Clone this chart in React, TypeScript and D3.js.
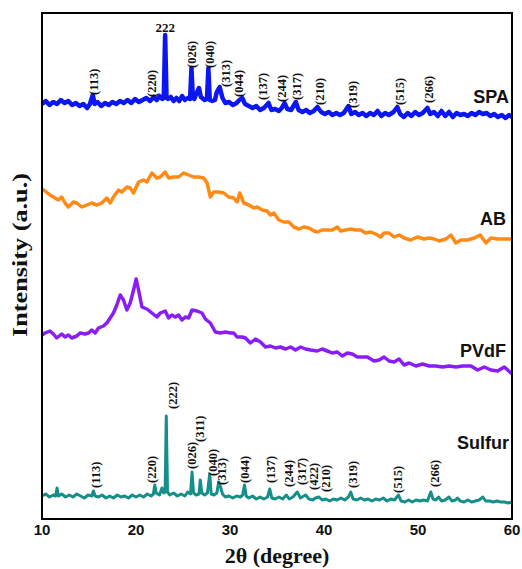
import React from 'react';
import * as d3 from 'd3';

// 2θ (degree), intensity (a.u., offset stack)
const spa: [number, number][] = [
  [10.0, 415], [10.4, 418], [10.8, 414], [11.2, 417], [11.6, 415], [12.0, 419], [12.4, 416], [12.8, 418],
  [13.2, 414], [13.6, 416], [14.0, 413], [14.4, 415], [14.8, 411], [15.1, 415], [15.4, 424], [15.6, 415],
  [15.9, 417], [16.3, 413], [16.7, 416], [17.1, 414], [17.5, 417], [17.9, 415], [18.3, 418], [18.7, 416],
  [19.1, 419], [19.5, 416], [19.9, 420], [20.3, 417], [20.7, 419], [21.1, 421], [21.5, 418], [21.9, 422],
  [22.2, 419], [22.5, 423], [22.8, 420], [22.95, 421], [23.1, 484], [23.25, 421], [23.4, 420], [23.7, 422],
  [24.0, 418], [24.3, 421], [24.6, 418], [24.9, 423], [25.2, 419], [25.5, 421], [25.75, 420], [25.9, 451],
  [26.05, 421], [26.2, 420], [26.5, 427], [26.7, 431], [26.9, 422], [27.3, 419], [27.55, 420], [27.7, 451],
  [27.85, 419], [28.1, 418], [28.4, 419], [28.6, 427], [28.9, 432], [29.2, 421], [29.5, 416], [29.9, 417],
  [30.3, 414], [30.7, 416], [31.0, 419], [31.3, 421], [31.6, 415], [32.0, 413], [32.4, 411], [32.8, 413],
  [33.2, 409], [33.6, 411], [34.1, 416], [34.4, 409], [34.8, 410], [35.2, 408], [35.5, 411], [35.8, 416],
  [36.1, 410], [36.5, 409], [37.0, 417], [37.3, 409], [37.7, 407], [38.1, 409], [38.5, 406], [38.9, 408],
  [39.3, 412], [39.7, 407], [40.1, 405], [40.5, 407], [40.9, 404], [41.3, 406], [41.7, 404], [42.1, 406],
  [42.6, 413], [42.9, 405], [43.3, 407], [43.7, 404], [44.1, 406], [44.5, 403], [44.9, 406], [45.3, 404],
  [45.7, 408], [46.1, 403], [46.5, 406], [46.9, 404], [47.4, 407], [47.8, 412], [48.1, 405], [48.5, 402],
  [48.9, 406], [49.3, 403], [49.7, 407], [50.1, 404], [50.5, 406], [51.0, 411], [51.3, 405], [51.7, 407],
  [52.1, 403], [52.5, 408], [52.9, 403], [53.3, 407], [53.7, 402], [54.1, 406], [54.5, 404], [54.9, 405],
  [55.3, 403], [55.7, 406], [56.1, 404], [56.5, 407], [56.9, 405], [57.3, 406], [57.7, 403], [58.1, 405],
  [58.5, 402], [58.9, 404], [59.3, 401], [59.7, 404], [60.0, 402],
];

const ab: [number, number][] = [
  [10.0, 330], [10.32, 328], [10.85, 324], [11.39, 321], [11.74, 319], [12.10, 322], [12.45, 316], [12.81, 312],
  [13.34, 317], [13.70, 316], [14.23, 312], [14.76, 314], [15.29, 316], [15.83, 314], [16.36, 316], [16.89, 321],
  [17.25, 316], [17.60, 322], [18.14, 329], [18.49, 327], [19.03, 332], [19.38, 331], [19.74, 326], [20.27, 337],
  [20.80, 339], [21.16, 337], [21.69, 346], [22.22, 341], [22.58, 342], [23.11, 347], [23.47, 341], [24.00, 342],
  [24.53, 342], [25.07, 346], [25.60, 344], [26.13, 342], [26.67, 342], [27.20, 341], [27.56, 336], [27.91, 322],
  [28.27, 327], [28.80, 327], [29.33, 326], [29.87, 322], [30.40, 321], [30.75, 317], [31.04, 326], [31.46, 316],
  [32.00, 314], [32.53, 311], [32.89, 312], [33.42, 309], [33.95, 308], [34.31, 304], [34.66, 306], [35.20, 299],
  [35.73, 297], [36.26, 297], [36.79, 292], [37.33, 290], [37.86, 292], [38.39, 291], [38.93, 288], [39.28, 287],
  [39.81, 289], [40.35, 289], [40.88, 289], [41.41, 292], [41.77, 288], [42.30, 289], [42.84, 290], [43.37, 289],
  [43.90, 289], [44.43, 286], [44.97, 287], [45.50, 285], [46.03, 282], [46.39, 286], [46.92, 286], [47.46, 282],
  [47.99, 284], [48.52, 281], [49.23, 279], [49.94, 282], [50.65, 280], [51.19, 281], [51.72, 280], [52.25, 278],
  [52.96, 280], [53.50, 284], [54.03, 276], [54.56, 279], [55.27, 279], [55.98, 281], [56.62, 284], [57.23, 276],
  [57.76, 281], [58.47, 280], [59.36, 280], [60.0, 280],
];

const pvdf: [number, number][] = [
  [10.0, 184], [10.32, 186], [10.85, 188], [11.21, 185], [11.56, 181], [12.10, 185], [12.45, 182], [12.81, 184],
  [13.16, 181], [13.70, 183], [14.05, 186], [14.58, 185], [14.94, 186], [15.29, 189], [15.65, 186], [16.01, 191],
  [16.54, 193], [16.89, 196], [17.25, 201], [17.60, 206], [17.96, 214], [18.32, 224], [18.67, 219], [19.03, 209],
  [19.38, 216], [19.74, 229], [20.02, 240], [20.27, 229], [20.63, 212], [21.16, 210], [21.69, 206], [22.22, 202],
  [22.58, 206], [23.11, 208], [23.47, 201], [23.82, 204], [24.18, 202], [24.53, 204], [24.89, 199], [25.25, 202],
  [25.60, 201], [25.96, 209], [26.49, 208], [27.02, 206], [27.38, 200], [27.91, 196], [28.44, 187], [28.98, 186],
  [29.51, 187], [30.04, 186], [30.40, 186], [30.75, 182], [31.29, 182], [31.64, 181], [32.17, 176], [32.71, 180],
  [33.24, 177], [33.77, 172], [34.31, 173], [34.84, 171], [35.37, 172], [35.91, 170], [36.44, 172], [36.97, 169],
  [37.51, 172], [38.04, 170], [38.57, 169], [39.28, 168], [39.81, 170], [40.35, 168], [40.88, 166], [41.41, 167],
  [41.95, 163], [42.48, 166], [43.01, 165], [43.55, 162], [44.08, 162], [44.61, 162], [45.32, 158], [45.86, 159],
  [46.39, 162], [46.92, 158], [47.46, 157], [47.99, 160], [48.52, 154], [49.06, 156], [49.77, 153], [50.48, 155],
  [51.19, 153], [51.90, 153], [52.61, 152], [53.32, 153], [54.03, 152], [54.74, 153], [55.63, 153], [56.34, 149],
  [57.05, 152], [57.76, 149], [58.47, 148], [59.18, 152], [59.89, 146], [60.0, 147],
];

const sulfur: [number, number][] = [
  [10.0, 23], [10.4, 25], [10.8, 22], [11.2, 24], [11.45, 23], [11.6, 31], [11.75, 23], [12.1, 25],
  [12.5, 22], [12.9, 24], [13.3, 22], [13.7, 25], [14.1, 23], [14.5, 21], [14.9, 24], [15.3, 23],
  [15.47, 28], [15.65, 23], [16.0, 22], [16.4, 24], [16.8, 21], [17.2, 23], [17.6, 21], [18.0, 24],
  [18.4, 22], [18.8, 23], [19.2, 21], [19.6, 24], [20.0, 22], [20.4, 24], [20.8, 22], [21.2, 25],
  [21.6, 23], [21.85, 25], [22.0, 34], [22.15, 26], [22.5, 24], [22.76, 31], [22.95, 26], [23.1, 27],
  [23.22, 103], [23.35, 27], [23.6, 24], [24.0, 26], [24.4, 23], [24.8, 25], [25.2, 23], [25.5, 27],
  [25.8, 25], [25.96, 47], [26.12, 26], [26.4, 24], [26.7, 25], [26.84, 39], [27.0, 26], [27.3, 24],
  [27.6, 26], [27.84, 45], [28.0, 25], [28.3, 24], [28.6, 26], [28.8, 37], [29.0, 32], [29.2, 25],
  [29.5, 22], [29.9, 23], [30.3, 21], [30.7, 23], [31.1, 22], [31.35, 24], [31.54, 34], [31.72, 23],
  [32.0, 21], [32.4, 23], [32.8, 20], [33.2, 22], [33.6, 20], [34.0, 22], [34.23, 30], [34.45, 21],
  [34.8, 20], [35.2, 22], [35.6, 20], [36.0, 24], [36.3, 20], [36.7, 22], [37.15, 27], [37.5, 21],
  [38.04, 24], [38.4, 20], [38.8, 19], [39.1, 21], [39.46, 22], [39.8, 19], [40.2, 20], [40.6, 18],
  [41.0, 20], [41.4, 19], [41.8, 21], [42.2, 19], [42.6, 22], [42.84, 27], [43.1, 20], [43.5, 19],
  [43.9, 21], [44.3, 19], [44.7, 20], [45.1, 18], [45.5, 20], [45.9, 19], [46.3, 21], [46.7, 18],
  [47.1, 20], [47.5, 19], [47.92, 24], [48.2, 18], [48.6, 17], [49.0, 19], [49.4, 17], [49.8, 19],
  [50.2, 18], [50.6, 19], [51.0, 18], [51.36, 27], [51.6, 20], [51.9, 19], [52.2, 22], [52.5, 18],
  [52.9, 19], [53.3, 22], [53.6, 18], [54.0, 19], [54.2, 21], [54.5, 18], [54.9, 17], [55.3, 19],
  [55.7, 17], [56.1, 18], [56.5, 19], [56.9, 22], [57.2, 18], [57.6, 18], [58.0, 17], [58.4, 18],
  [58.8, 17], [59.2, 17], [59.6, 16], [60.0, 17],
];

// reflection labels: [hkl, 2θ, intensity where the label starts]
const spaPeaks: [string, number, number][] = [
  ['(113)', 15.44, 424], ['(220)', 21.62, 422], ['(026)', 25.88, 451], ['(040)', 27.80, 451],
  ['(313)', 29.51, 432], ['(044)', 30.90, 422], ['(137)', 33.45, 419], ['(244)', 35.48, 417],
  ['(317)', 37.08, 419], ['(210)', 39.53, 414], ['(319)', 43.05, 411], ['(515)', 48.06, 414],
  ['(266)', 51.15, 416],
];

const sulfurPeaks: [string, number, number][] = [
  ['(113)', 15.72, 31], ['(220)', 21.70, 36], ['(222)', 23.93, 110], ['(026)', 25.96, 50],
  ['(311)', 26.74, 77], ['(040)', 28.20, 43], ['(313)', 29.16, 34], ['(044)', 31.57, 36],
  ['(137)', 34.31, 36], ['(244)', 36.26, 32], ['(317)', 37.61, 34], ['(422)', 38.92, 29],
  ['(210)', 40.17, 27], ['(319)', 43.02, 31], ['(515)', 47.88, 26], ['(266)', 51.79, 32],
];

const series = [
  { name: 'SPA', data: spa, color: '#0b16f2', width: 4.5, labelAt: [59.68, 416] },
  { name: 'AB', data: ab, color: '#ff8a14', width: 3.5, labelAt: [59.36, 294] },
  { name: 'PVdF', data: pvdf, color: '#8a1df7', width: 3.5, labelAt: [59.36, 162] },
  { name: 'Sulfur', data: sulfur, color: '#168f88', width: 3, labelAt: [59.68, 70] },
];

const xTicks = [10, 20, 30, 40, 50, 60];

export default function App() {
  const width = 522;
  const height = 569;
  const margin = { top: 13, right: 10, bottom: 50, left: 42 };

  const x = d3.scaleLinear().domain([10, 60]).range([margin.left, width - margin.right]);
  const y = d3.scaleLinear().domain([0, 506]).range([height - margin.bottom, margin.top]);

  const line = d3.line<[number, number]>()
    .x(d => x(d[0]))
    .y(d => y(d[1]));

  const serif = '"Liberation Serif", "Times New Roman", serif';
  const sans = '"Liberation Sans", Arial, sans-serif';

  const peakLabel = (p: [string, number, number], i: number) => (
    <text
      key={i}
      transform={`translate(${x(p[1])},${y(p[2])}) rotate(-90)`}
      dy="0.35em"
      fontFamily={serif}
      fontWeight="bold"
      fontSize={12.5}
      fill="#111"
    >
      {p[0]}
    </text>
  );

  return (
    <svg width={width} height={height} style={{ position: 'absolute', left: 0, top: 0 }}>
      <rect width={width} height={height} fill="#fff" />

      {series.map(s => (
        <path
          key={s.name}
          d={line(s.data) ?? ''}
          fill="none"
          stroke={s.color}
          strokeWidth={s.width}
          strokeLinejoin="round"
        />
      ))}

      {series.map(s => (
        <text
          key={s.name + '-label'}
          x={x(s.labelAt[0])}
          y={y(s.labelAt[1])}
          textAnchor="end"
          fontFamily={sans}
          fontWeight="bold"
          fontSize={18}
          fill="#111"
        >
          {s.name}
        </text>
      ))}

      {spaPeaks.map(peakLabel)}
      {sulfurPeaks.map(peakLabel)}
      <text
        x={x(23.11)}
        y={y(487)}
        textAnchor="middle"
        fontFamily={serif}
        fontWeight="bold"
        fontSize={13}
        fill="#111"
      >
        222
      </text>

      <rect
        x={margin.left}
        y={margin.top}
        width={width - margin.left - margin.right}
        height={height - margin.top - margin.bottom}
        fill="none"
        stroke="#000"
        strokeWidth={2}
      />

      {xTicks.map(t => (
        <text
          key={t}
          x={x(t)}
          y={height - margin.bottom + 16}
          textAnchor="middle"
          fontFamily={sans}
          fontWeight="bold"
          fontSize={15}
          fill="#111"
        >
          {t}
        </text>
      ))}

      <text
        x={277}
        y={563}
        textAnchor="middle"
        fontFamily={serif}
        fontWeight="bold"
        fontSize={22}
        fill="#111"
      >
        2θ (degree)
      </text>
      <text
        transform={`translate(27,255) rotate(-90)`}
        textAnchor="middle"
        fontFamily={serif}
        fontWeight="bold"
        fontSize={21}
        textLength={164}
        lengthAdjust="spacingAndGlyphs"
        fill="#111"
      >
        Intensity (a.u.)
      </text>
    </svg>
  );
}
